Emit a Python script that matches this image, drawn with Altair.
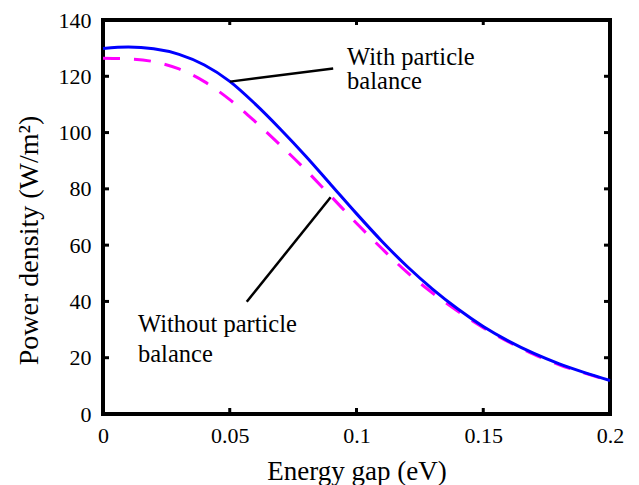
import altair as alt
import pandas as pd

# ---- data ----
energy_gap = [0.00, 0.01, 0.02, 0.03, 0.04, 0.05, 0.06, 0.07, 0.08, 0.09, 0.10,
              0.11, 0.12, 0.13, 0.14, 0.15, 0.16, 0.17, 0.18, 0.19, 0.20]
with_balance = [129.9, 130.4, 129.8, 127.8, 124.0, 118.2, 110.2, 101.2, 91.6, 81.4, 71.2,
                61.4, 52.4, 44.4, 37.3, 31.1, 25.9, 21.5, 17.8, 14.7, 11.9]
without_balance = [126.4, 126.2, 125.2, 122.6, 118.1, 111.7, 103.9, 95.5, 86.7, 77.3, 67.8,
                   58.8, 50.3, 43.0, 36.5, 30.7, 25.6, 21.2, 17.5, 14.5, 11.8]

x_tick_values = [0, 0.05, 0.1, 0.15, 0.2]
y_tick_values = [0, 20, 40, 60, 80, 100, 120, 140]
x_inner_ticks = [0.05, 0.1, 0.15]
y_inner_ticks = [20, 40, 60, 80, 100, 120]

ann_text = ["With particle", "balance", "Without particle", "balance"]
ann_x = [0.0963, 0.0963, 0.0138, 0.0138]
ann_y = [124.0, 115.5, 29.2, 18.6]

leader_x = [0.0501, 0.0567]
leader_y = [118.1, 39.9]
leader_x2 = [0.0908, 0.0898]
leader_y2 = [122.8, 77.0]

W, H = 507, 394
FONT = "Liberation Serif"
X_TITLE = "Energy gap (eV)"
Y_TITLE = "Power density (W/m²)"

curves = pd.DataFrame({"gap": energy_gap, "with": with_balance, "without": without_balance})
ann = pd.DataFrame({"t": ann_text, "x": ann_x, "y": ann_y})
leaders = pd.DataFrame({"x": leader_x, "y": leader_y, "x2": leader_x2, "y2": leader_y2})
xt = pd.DataFrame({"v": x_inner_ticks})
yt = pd.DataFrame({"v": y_inner_ticks})

xscale = alt.Scale(domain=[0, 0.2], nice=False, zero=False)
yscale = alt.Scale(domain=[0, 140], nice=False)

x_axis = alt.Axis(values=x_tick_values, format="~g", title=X_TITLE,
                  labelFlush=False, labelPadding=11, titleY=65,
                  titleBaseline="alphabetic", labelOverlap=False)
y_axis = alt.Axis(values=y_tick_values, title=Y_TITLE,
                  labelFlush=False, labelPadding=12, titleX=-66, titleY=220,
                  titleBaseline="alphabetic", labelOverlap=False, titleFontSize=28)


def X(field):
    return alt.X(field, scale=xscale, axis=x_axis, title=X_TITLE)


def Y(field):
    return alt.Y(field, scale=yscale, axis=y_axis, title=Y_TITLE)


base = alt.Chart(curves)

without_line = base.mark_line(color="#FF00FF", strokeWidth=3, strokeDash=[17, 14],
                              interpolate="monotone").encode(
    x=X("gap:Q"), y=Y("without:Q"))
with_line = base.mark_line(color="#0000FF", strokeWidth=3, interpolate="monotone").encode(
    x=X("gap:Q"), y=Y("with:Q"))

leader_rules = alt.Chart(leaders).mark_rule(color="black", strokeWidth=2.5).encode(
    x=X("x:Q"), y=Y("y:Q"), x2="x2:Q", y2="y2:Q")

labels = alt.Chart(ann).mark_text(align="left", baseline="alphabetic", font=FONT,
                                  fontSize=24.5, color="black").encode(
    x=X("x:Q"), y=Y("y:Q"), text="t:N")

# inward ticks on all four sides
xt_bottom = alt.Chart(xt).mark_rule(color="black", strokeWidth=3).encode(
    x=X("v:Q"), y=alt.value(H), y2=alt.value(H - 6))
xt_top = alt.Chart(xt).mark_rule(color="black", strokeWidth=3).encode(
    x=X("v:Q"), y=alt.value(0), y2=alt.value(5))
yt_left = alt.Chart(yt).mark_rule(color="black", strokeWidth=3).encode(
    y=Y("v:Q"), x=alt.value(0), x2=alt.value(6))
yt_right = alt.Chart(yt).mark_rule(color="black", strokeWidth=3).encode(
    y=Y("v:Q"), x=alt.value(W), x2=alt.value(W - 6))

chart = alt.layer(
    without_line, with_line, leader_rules, labels,
    xt_bottom, xt_top, yt_left, yt_right
).properties(
    width=W, height=H,
    autosize=alt.AutoSizeParams(type="none"),
    padding={"left": 95, "top": 12, "right": 20, "bottom": 77},
).configure_view(
    stroke="black", strokeWidth=4
).configure_axis(
    domain=False, ticks=False, grid=False,
    labelFont=FONT, labelFontSize=22, labelColor="black",
    titleFont=FONT, titleFontSize=27, titleColor="black", titleFontWeight="normal",
)

chart.save("out.html", embed_options={"renderer": "svg", "actions": False})
